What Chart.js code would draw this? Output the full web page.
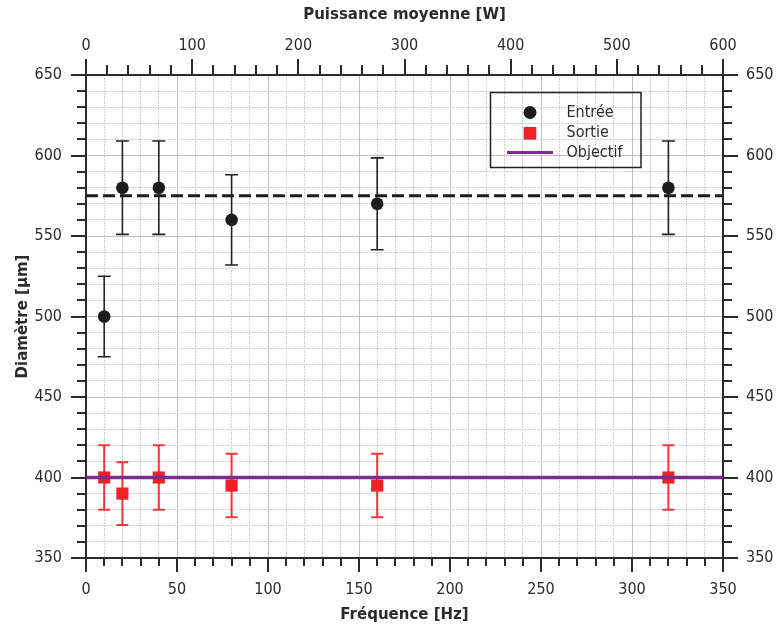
<!DOCTYPE html>
<html>
<head>
<meta charset="utf-8">
<script src="https://cdn.jsdelivr.net/npm/chart.js@4"></script>
<style>
  body { margin: 0; background: #fff; }
  canvas { display: block; }
</style>
</head>
<body>
<canvas id="chart" width="776" height="628"></canvas>
<script>
// frequences testees [Hz]
const frequences = [10, 20, 40, 80, 160, 320];
// diametre entree / sortie [um] et incertitudes
const entree = [500, 580, 580, 560, 570, 580];
const entreeErr = [25, 29, 29, 28, 28.5, 29];
const sortie = [400, 390, 400, 395, 395, 400];
const sortieErr = [20, 19.5, 20, 19.75, 19.75, 20];
const objectif = 400;
const seuilEntree = 575;
const xRange = [0, 350];
const puissanceRange = [0, 600];
const yRange = [350, 650];

// police proche de Tahoma si dispo, sinon Liberation Sans
function hasFont(name) {
  const c = document.createElement('canvas').getContext('2d');
  c.font = '16px monospace';
  const ref = c.measureText('Entrée 650').width;
  c.font = '16px "' + name + '", monospace';
  return c.measureText('Entrée 650').width !== ref;
}
const FONT = hasFont('DejaVu Sans Condensed') ? "'DejaVu Sans Condensed', sans-serif" : "'Liberation Sans', sans-serif";
const TITLE_FONT = "'DejaVu Sans', sans-serif";
const INK = '#2b2b2b';

const toPts = (xs, ys) => xs.map((x, i) => ({ x: x, y: ys[i] }));

// barres d'erreur, dessinees sous les points
const errorBars = {
  id: 'errorBars',
  beforeDatasetsDraw(chart) {
    const ctx = chart.ctx;
    const xs = chart.scales.x, ys = chart.scales.y;
    const sets = [
      { vals: entree, err: entreeErr, color: '#222', w: 1.6, cap: 6.5 },
      { vals: sortie, err: sortieErr, color: '#f0343c', w: 2, cap: 6 }
    ];
    ctx.save();
    sets.forEach(s => {
      ctx.strokeStyle = s.color;
      ctx.lineWidth = s.w;
      frequences.forEach((f, i) => {
        const px = xs.getPixelForValue(f);
        const top = ys.getPixelForValue(s.vals[i] + s.err[i]);
        const bot = ys.getPixelForValue(s.vals[i] - s.err[i]);
        ctx.beginPath();
        ctx.moveTo(px, top); ctx.lineTo(px, bot);
        ctx.moveTo(px - s.cap, top); ctx.lineTo(px + s.cap, top);
        ctx.moveTo(px - s.cap, bot); ctx.lineTo(px + s.cap, bot);
        ctx.stroke();
      });
    });
    ctx.restore();
  }
};

// graduations majeures / mineures + legende
const ticksAndLegend = {
  id: 'ticksAndLegend',
  afterDraw(chart) {
    const ctx = chart.ctx;
    const a = chart.chartArea;
    ctx.save();
    ctx.strokeStyle = INK;
    ctx.lineWidth = 2;
    const defs = [
      { id: 'x', major: 50, len: [14, 8], side: 'bottom' },
      { id: 'x2', major: 100, len: [16, 10], side: 'top' },
      { id: 'y', major: 50, len: [15, 9], side: 'left' },
      { id: 'y2', major: 50, len: [15, 9], side: 'right' }
    ];
    defs.forEach(d => {
      const sc = chart.scales[d.id];
      ctx.beginPath();
      sc.ticks.forEach(t => {
        const p = Math.round(sc.getPixelForValue(t.value));
        const L = (t.value % d.major === 0) ? d.len[0] : d.len[1];
        if (d.side === 'bottom') { ctx.moveTo(p, a.bottom); ctx.lineTo(p, a.bottom + L); }
        if (d.side === 'top') { ctx.moveTo(p, a.top); ctx.lineTo(p, a.top - L); }
        if (d.side === 'left') { ctx.moveTo(a.left, p); ctx.lineTo(a.left - L, p); }
        if (d.side === 'right') { ctx.moveTo(a.right, p); ctx.lineTo(a.right + L, p); }
      });
      ctx.stroke();
    });

    // legende
    const bx = a.left + 404.5, by = a.top + 17.5, bw = 150.5, bh = 75;
    ctx.lineWidth = 1.5;
    ctx.strokeStyle = '#222';
    ctx.strokeRect(bx, by, bw, bh);
    const mx = bx + 39.5, tx = bx + 76;
    ctx.fillStyle = '#1c1c1c';
    ctx.beginPath(); ctx.arc(mx, by + 20, 6.5, 0, Math.PI * 2); ctx.fill();
    ctx.fillStyle = '#ee2128';
    ctx.fillRect(mx - 6.3, by + 34.5, 12.6, 12.6);
    ctx.strokeStyle = '#7b2c8c';
    ctx.lineWidth = 3;
    ctx.beginPath(); ctx.moveTo(mx - 23, by + 60); ctx.lineTo(mx + 23, by + 60); ctx.stroke();
    ctx.fillStyle = INK;
    ctx.font = '16px ' + FONT;
    ctx.textBaseline = 'middle';
    ctx.fillText('Entrée', tx, by + 20);
    ctx.fillText('Sortie', tx, by + 40);
    ctx.fillText('Objectif', tx, by + 60);
    ctx.restore();
  }
};

const gridColor = c => (c.tick && c.tick.value % 50 === 0) ? '#c0c0c0' : '#d0d0d0';
const gridDash = c => (c.tick && c.tick.value % 50 !== 0) ? [2, 1] : [];
const tickFont = { family: FONT, size: 16 };
const titleFont = { family: TITLE_FONT, size: 15, weight: 'bold' };

new Chart(document.getElementById('chart'), {
  type: 'scatter',
  data: {
    datasets: [
      {
        label: 'Objectif',
        data: [{ x: xRange[0], y: objectif }, { x: xRange[1], y: objectif }],
        showLine: true, borderColor: '#7b2c8c', borderWidth: 3.5,
        pointRadius: 0, xAxisID: 'x', yAxisID: 'y'
      },
      {
        label: 'Entrée',
        data: toPts(frequences, entree),
        pointStyle: 'circle', pointRadius: 6.3,
        backgroundColor: '#1c1c1c', borderColor: '#1c1c1c', borderWidth: 0
      },
      {
        label: 'Sortie',
        data: toPts(frequences, sortie),
        pointStyle: 'rect', pointRadius: 8.6,
        backgroundColor: '#ee2128', borderColor: '#ee2128', borderWidth: 0
      },
      {
        label: 'seuil',
        data: [{ x: xRange[0], y: seuilEntree }, { x: xRange[1], y: seuilEntree }],
        showLine: true, borderColor: '#1c1c1c', borderWidth: 3,
        borderDash: [12, 5], pointRadius: 0
      }
    ]
  },
  options: {
    responsive: false,
    animation: false,
    layout: { padding: 0 },
    plugins: { legend: { display: false }, tooltip: { enabled: false } },
    scales: {
      x: {
        type: 'linear', position: 'bottom', min: xRange[0], max: xRange[1],
        afterFit: s => { s.height = 70; },
        ticks: {
          stepSize: 10, autoSkip: false, maxRotation: 0, padding: 8,
          color: INK, font: tickFont,
          callback: v => (v % 50 === 0 ? v : '')
        },
        grid: { color: gridColor, lineWidth: 1, tickLength: 14, tickColor: 'transparent' },
        border: { color: INK, width: 2, dash: gridDash },
        title: { display: true, text: 'Fréquence [Hz]', color: INK, font: titleFont, padding: { top: 0, bottom: 4 } }
      },
      x2: {
        type: 'linear', position: 'top', min: puissanceRange[0], max: puissanceRange[1],
        afterFit: s => { s.height = 75; },
        ticks: {
          stepSize: 20, autoSkip: false, maxRotation: 0, padding: 4,
          color: INK, font: tickFont,
          callback: v => (v % 100 === 0 ? v : '')
        },
        grid: { drawOnChartArea: false, tickLength: 16, tickColor: 'transparent' },
        border: { color: INK, width: 2 },
        title: { display: true, text: 'Puissance moyenne [W]', color: INK, font: titleFont, padding: { top: 6, bottom: 0 } }
      },
      y: {
        type: 'linear', position: 'left', min: yRange[0], max: yRange[1],
        afterFit: s => { s.width = 86; },
        ticks: {
          stepSize: 10, autoSkip: false, padding: 9,
          color: INK, font: tickFont,
          callback: v => (v % 50 === 0 ? v : '')
        },
        grid: { color: gridColor, lineWidth: 1, tickLength: 15, tickColor: 'transparent' },
        border: { color: INK, width: 2, dash: gridDash },
        title: { display: true, text: 'Diamètre [µm]', color: INK, font: titleFont, padding: { top: 14, bottom: 0 } }
      },
      y2: {
        type: 'linear', position: 'right', min: yRange[0], max: yRange[1],
        afterFit: s => { s.width = 53; },
        ticks: {
          stepSize: 10, autoSkip: false, padding: 8,
          color: INK, font: tickFont,
          callback: v => (v % 50 === 0 ? v : '')
        },
        grid: { drawOnChartArea: false, tickLength: 15, tickColor: 'transparent' },
        border: { color: INK, width: 2 }
      }
    }
  },
  plugins: [errorBars, ticksAndLegend]
});
</script>
</body>
</html>
